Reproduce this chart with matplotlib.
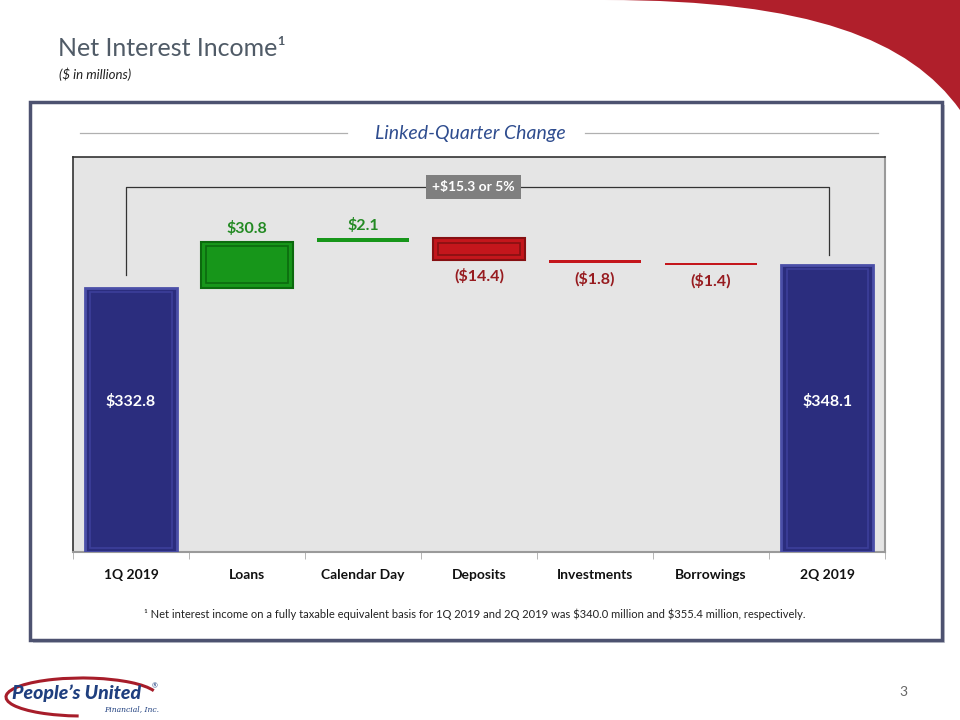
import matplotlib
matplotlib.use("Agg")
from matplotlib import pyplot as plt
from matplotlib.patches import FancyBboxPatch, PathPatch, Arc
from matplotlib.path import Path
import numpy as np

plt.rcParams['font.family'] = ['Lato', 'DejaVu Sans']

categories = ['1Q 2019', 'Loans', 'Calendar Day', 'Deposits', 'Investments', 'Borrowings', '2Q 2019']
start_value = 332.8
changes = [30.8, 2.1, -14.4, -1.8, -1.4]
end_value = 348.1
change_labels = [r'\$30.8', r'\$2.1', r'(\$14.4)', r'(\$1.8)', r'(\$1.4)']
total_labels = [r'\$332.8', r'\$348.1']
bracket_label = r'+\$15.3 or 5%'
footnote = ('\u00b9 Net interest income on a fully taxable equivalent basis for 1Q 2019 and 2Q 2019 '
            r'was \$340.0 million and \$355.4 million, respectively.')

NAVY = '#2b2d7e'
NAVY_EDGE = '#4b4fa8'
GREEN = '#17961a'
GREEN_EDGE = '#0c6a0e'
RED = '#c4161c'
RED_EDGE = '#861012'
GREEN_TXT = '#238a23'
RED_TXT = '#971b1f'
AX_BOTTOM = 157

fig = plt.figure(figsize=(9.6, 7.2), dpi=100)

# decoration layer in pixel coordinates
deco = fig.add_axes([0, 0, 1, 1], zorder=0)
deco.set_xlim(0, 960)
deco.set_ylim(720, 0)
deco.axis('off')

# red swoosh, top right
verts = [(605, 0), (960, 0), (960, 110), (910, 40), (810, 0), (605, 0)]
codes = [Path.MOVETO, Path.LINETO, Path.LINETO, Path.CURVE4, Path.CURVE4, Path.CURVE4]
deco.add_patch(PathPatch(Path(verts, codes), facecolor='#b01f2b', edgecolor='none'))

deco.text(58, 48, 'Net Interest Income\u00b9', fontsize=18, color='#505b67',
          va='center', ha='left')
deco.text(59, 74, '($ in millions)', fontsize=9.5, color='#222222', style='italic',
          va='center', ha='left')

# outer panel
deco.add_patch(FancyBboxPatch((33, 105), 912, 538, boxstyle='square,pad=0',
                              facecolor='#c9cbd3', edgecolor='none'))
deco.add_patch(FancyBboxPatch((30, 102), 912, 538, boxstyle='square,pad=0',
                              facecolor='white', edgecolor='#4d5270', linewidth=2.5))

deco.plot([80, 347], [133, 133], color='#b0b0b0', lw=0.9)
deco.plot([585, 878], [133, 133], color='#b0b0b0', lw=0.9)
deco.text(470, 133, 'Linked-Quarter Change', fontsize=14, color='#2f4d8f',
          style='italic', ha='center', va='center')

deco.text(475, 614, footnote, fontsize=8, color='#222222', ha='center', va='center')

# logo
deco.add_patch(Arc((82, 697), 152, 38, theta1=100, theta2=355, color='#a71d2a', lw=2.2))
deco.text(12, 693, "People\u2019s United", fontsize=14, color='#1f3f7f',
          fontweight='black', style='italic', ha='left', va='center')
deco.text(152, 686, '\u00ae', fontsize=5, color='#1f3f7f', ha='left', va='center')
deco.text(104, 709, 'Financial, Inc.', fontsize=5.5, color='#1f3f7f', style='italic',
          family='DejaVu Serif', ha='left', va='center')
deco.text(903, 692, '3', fontsize=10, color='#666666', ha='center', va='center')

# chart
ax = fig.add_axes([0.076, 0.2333, 0.846, 0.549], zorder=1)
ax.set_facecolor('#e5e5e5')
ax.set_xlim(-0.5, 6.5)
ax.set_ylim(AX_BOTTOM, 420)

x = np.arange(len(categories))
w = 0.79


def bevel(xc, bottom, height, edge):
    # inner outline to mimic the bevelled bar look
    ax.bar(xc, height - 6, width=w - 0.09, bottom=bottom + 3, facecolor='none',
           edgecolor=edge, linewidth=1.2, zorder=4)


# totals
totals = [start_value, end_value]
ax.bar([0, 6], [v - AX_BOTTOM for v in totals], width=w, bottom=AX_BOTTOM, color=NAVY,
       edgecolor=NAVY_EDGE, linewidth=2, zorder=3)
for xi, v in zip([0, 6], totals):
    bevel(xi, AX_BOTTOM, v - AX_BOTTOM, '#3c3f9a')
for xi, lab in zip([0, 6], total_labels):
    ax.text(xi, 257, lab, color='white', fontsize=11.5, fontweight='bold',
            ha='center', va='center', zorder=5)

# floating changes
level = start_value
for i, (c, lab) in enumerate(zip(changes, change_labels), start=1):
    bottom = level if c > 0 else level + c
    if c > 0:
        fc, ec, tc = GREEN, GREEN_EDGE, GREEN_TXT
    else:
        fc, ec, tc = RED, RED_EDGE, RED_TXT
    big = abs(c) > 5
    ax.bar(i, abs(c), width=w, bottom=bottom, color=fc, edgecolor=ec,
           linewidth=1.5 if big else 0, zorder=3)
    if big:
        bevel(i, bottom, abs(c), ec)
    if c > 0:
        ax.annotate(lab, (i, bottom + abs(c)), xytext=(0, 4), textcoords='offset points',
                    ha='center', va='bottom', color=tc, fontsize=11.5, fontweight='bold')
    else:
        ax.annotate(lab, (i, bottom), xytext=(0, -6), textcoords='offset points',
                    ha='center', va='top', color=tc, fontsize=11.5, fontweight='bold')
    level += c

# bracket
ax.plot([-0.04, -0.04, 6.02, 6.02], [341.5, 400, 400, 354.8], color='#333333',
        lw=0.9, zorder=2)
ax.text(2.95, 400, bracket_label, color='white', fontsize=10, fontweight='bold',
        ha='center', va='center', zorder=4,
        bbox=dict(boxstyle='square,pad=0.45', facecolor='#7f7f7f', edgecolor='none'))

ax.set_xticks(x)
ax.set_xticklabels(categories, fontsize=10, fontweight='bold', color='#111111')
ax.set_xticks(np.arange(-0.5, 7, 1), minor=True)
ax.tick_params(axis='x', which='major', length=0, pad=12)
ax.tick_params(axis='x', which='minor', length=5, color='#aaaaaa')
ax.set_yticks([])
for side in ['top', 'left']:
    ax.spines[side].set_color('#333333')
    ax.spines[side].set_linewidth(1.2)
for side in ['right', 'bottom']:
    ax.spines[side].set_color('#9a9a9a')
    ax.spines[side].set_linewidth(1.5)

fig.savefig('out.png', dpi=100)
